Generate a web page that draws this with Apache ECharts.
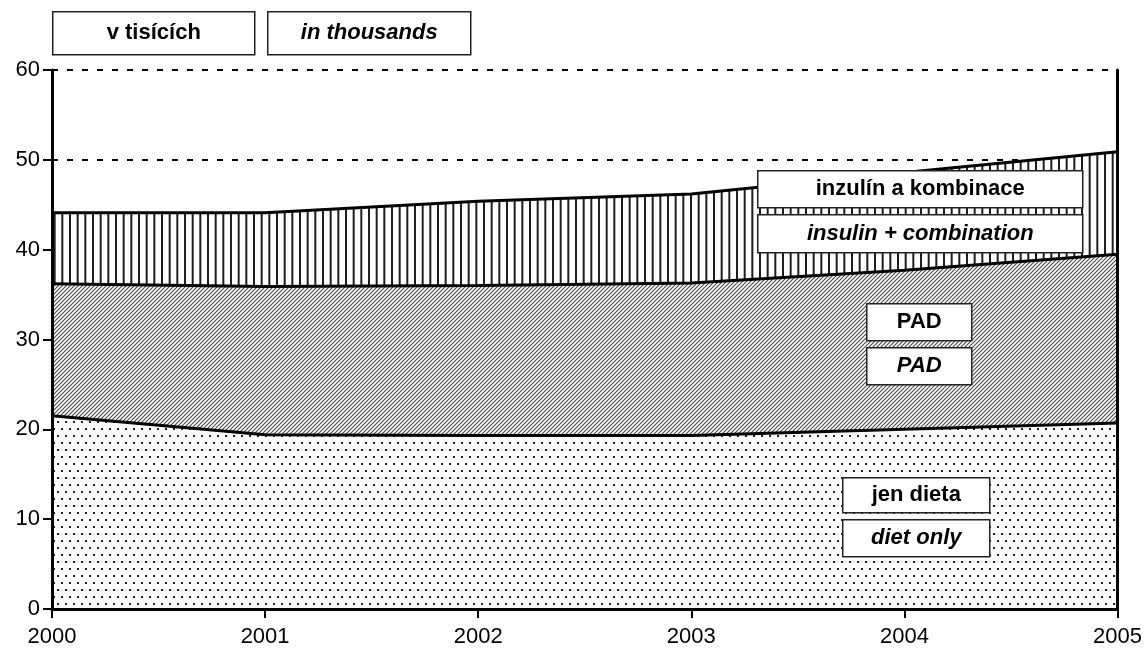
<!DOCTYPE html>
<html>
<head>
<meta charset="utf-8">
<script src="https://cdn.jsdelivr.net/npm/echarts@6/dist/echarts.min.js"></script>
<style>
  html, body { margin: 0; padding: 0; background: #fff; }
  #chart { width: 1145px; height: 661px; }
</style>
</head>
<body>
<div id="chart"></div>
<script>
// roky a hodnoty (v tisících), skládané plochy
var years = ['2000', '2001', '2002', '2003', '2004', '2005'];
var dietOnly = [21.5, 19.4, 19.3, 19.3, 20.0, 20.7];
var pad = [14.7, 16.5, 16.7, 17.0, 17.7, 18.8];
var insulin = [7.9, 8.2, 9.4, 9.9, 10.9, 11.4];
var yTicks = [0, 10, 20, 30, 40, 50, 60];

var FONT = "'Liberation Sans', Arial, sans-serif";

// vzorky výplně
function tile(w, h, draw) {
    var c = document.createElement('canvas');
    c.width = w; c.height = h;
    var ctx = c.getContext('2d');
    ctx.fillStyle = '#fff';
    ctx.fillRect(0, 0, w, h);
    draw(ctx);
    return { image: c, repeat: 'repeat' };
}

var dots = tile(8, 14, function (ctx) {
    ctx.fillStyle = '#222';
    ctx.fillRect(1, 1, 2, 2);
    ctx.fillRect(5, 8, 2, 2);
});

var diag = tile(4, 4, function (ctx) {
    ctx.strokeStyle = '#4a4a4a';
    ctx.lineWidth = 1.1;
    ctx.beginPath();
    ctx.moveTo(0, 4); ctx.lineTo(4, 0);
    ctx.moveTo(-1, 1); ctx.lineTo(1, -1);
    ctx.moveTo(3, 5); ctx.lineTo(5, 3);
    ctx.stroke();
});

var vert = tile(23, 4, function (ctx) {
    ctx.fillStyle = '#1e1e1e';
    ctx.fillRect(0, 0, 2, 4);
    ctx.fillRect(7.67, 0, 2, 4);
    ctx.fillRect(15.33, 0, 2, 4);
});

// popisky v rámečku
function box(x, y, w, h, text, italic) {
    return {
        type: 'group',
        left: x, top: y,
        children: [
            { type: 'rect', z: 100, shape: { x: 0, y: 0, width: w, height: h },
              style: { fill: '#fff', stroke: '#222', lineWidth: 1.5 } },
            { type: 'text', z: 101, x: w / 2, y: h / 2,
              style: { text: text, fill: '#000', align: 'center', verticalAlign: 'middle',
                       font: (italic ? 'italic ' : '') + 'bold 22px ' + FONT } }
        ]
    };
}

var myChart = echarts.init(document.getElementById('chart'));

var axisBlack = { show: true, lineStyle: { color: '#000', width: 3 } };

var option = {
    animation: false,
    backgroundColor: '#fff',
    grid: { left: 52, right: 25, top: 70, bottom: 52 },
    xAxis: {
        type: 'category',
        data: years,
        boundaryGap: false,
        axisLine: axisBlack,
        axisTick: { show: true, length: 9, lineStyle: { color: '#000', width: 2 } },
        axisLabel: { color: '#000', fontSize: 22, fontFamily: FONT, margin: 17 },
        splitLine: { show: false },
        z: 10
    },
    yAxis: [{
        // mřížka a popisky pod plochami
        type: 'value',
        min: yTicks[0],
        max: yTicks[yTicks.length - 1],
        interval: 10,
        axisLine: { show: false },
        axisTick: { show: false },
        axisLabel: { color: '#000', fontSize: 22, fontFamily: FONT, margin: 12 },
        splitLine: { show: true, lineStyle: { color: '#000', width: 2, type: [6, 9] } },
        z: 0
    }, {
        // levá osa nad plochami
        type: 'value',
        position: 'left',
        min: yTicks[0],
        max: yTicks[yTicks.length - 1],
        interval: 10,
        axisLine: axisBlack,
        axisTick: { show: true, length: 9, lineStyle: { color: '#000', width: 2 } },
        axisLabel: { show: false },
        splitLine: { show: false },
        z: 10
    }, {
        type: 'value',
        position: 'right',
        min: yTicks[0],
        max: yTicks[yTicks.length - 1],
        interval: 10,
        axisLine: axisBlack,
        axisTick: { show: false },
        axisLabel: { show: false },
        splitLine: { show: false },
        z: 10
    }],
    series: [
        {
            name: 'jen dieta',
            type: 'line',
            stack: 'celkem',
            data: dietOnly,
            symbol: 'none',
            lineStyle: { color: '#000', width: 3 },
            areaStyle: { color: dots, opacity: 1 },
            z: 5
        },
        {
            name: 'PAD',
            type: 'line',
            stack: 'celkem',
            data: pad,
            symbol: 'none',
            lineStyle: { color: '#000', width: 3 },
            areaStyle: { color: diag, opacity: 1 },
            z: 4
        },
        {
            name: 'inzulín a kombinace',
            type: 'line',
            stack: 'celkem',
            data: insulin,
            symbol: 'none',
            lineStyle: { color: '#000', width: 3 },
            areaStyle: { color: vert, opacity: 1 },
            z: 3
        }
    ],
    graphic: [
        box(52, 11, 202, 43, 'v tisících', false),
        box(267, 11, 203, 43, 'in thousands', true),
        box(757, 170, 325, 37, 'inzulín a kombinace', false),
        box(757, 214, 325, 38, 'insulin + combination', true),
        box(866, 303, 105, 37, 'PAD', false),
        box(866, 347, 105, 37, 'PAD', true),
        box(842, 477, 147, 35, 'jen dieta', false),
        box(842, 519, 147, 37, 'diet only', true)
    ]
};

option && myChart.setOption(option);
</script>
</body>
</html>
